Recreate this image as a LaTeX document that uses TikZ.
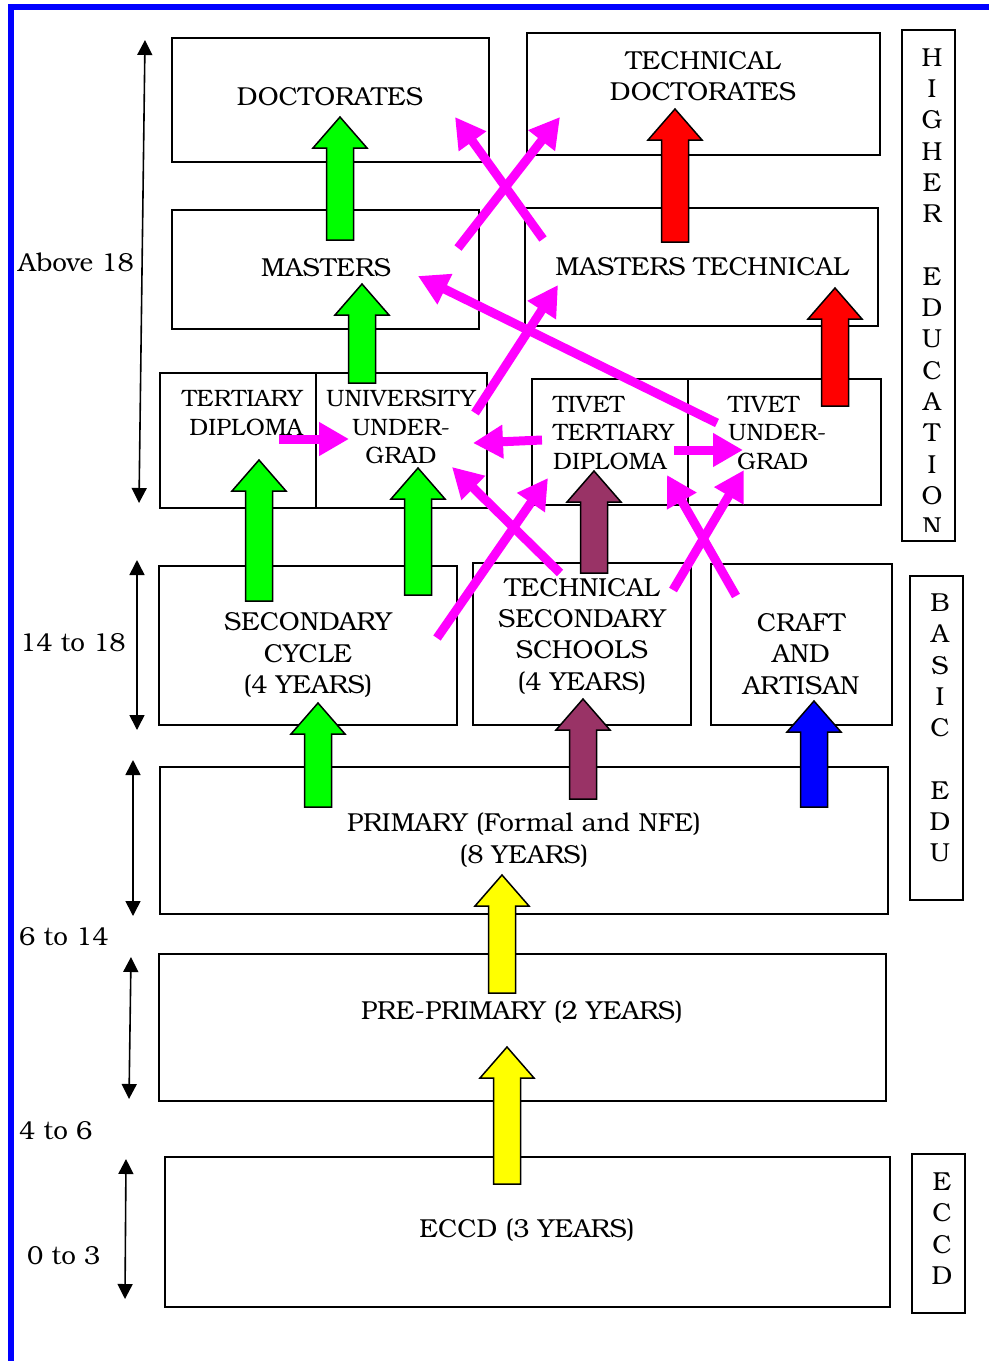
\documentclass[tikz,border=0pt]{standalone}
\usepackage{fontspec}
\setmainfont{TeX Gyre Bonum}
\usetikzlibrary{arrows.meta,calc}

\definecolor{crossmag}{RGB}{255,0,255}
\definecolor{tvgreen}{RGB}{0,255,0}
\definecolor{tvmaroon}{RGB}{153,51,102}
\definecolor{tvred}{RGB}{255,0,0}
\definecolor{tvblue}{RGB}{0,0,255}
\definecolor{tvyellow}{RGB}{255,255,0}

\tikzset{
  stage/.style={draw, line width=1.9pt, inner sep=0pt},
  txt/.style={font=\fontsize{26}{31.3}\selectfont, align=center, inner sep=0pt},
  smalltxt/.style={font=\fontsize{23.7}{28.5}\selectfont, inner sep=0pt},
  agespan/.style={line width=1.6pt, {Triangle[length=15pt,width=15pt]}-{Triangle[length=15pt,width=15pt]}},
  crossing/.style={crossmag, line width=9pt, -{Triangle[length=30pt,width=32pt]}},
  block/.style={draw=black, line width=1.5pt, line join=miter},
}

\newcommand{\blockup}[3]{%
  \filldraw[block, fill=#1] let \p1=(#2), \p2=(#3) in
    (\p1) -- (\x1+27pt,\y1-31pt) -- (\x1+13.5pt,\y1-31pt) -- (\x1+13.5pt,\y2)
    -- (\x1-13.5pt,\y2) -- (\x1-13.5pt,\y1-31pt) -- (\x1-27pt,\y1-31pt) -- cycle;}

\begin{document}
\begin{tikzpicture}[x=1pt,y=-1pt]
\useasboundingbox (0,0) rectangle (989,1361);
\draw[tvblue, line width=6pt, line join=miter] (10.5,1361) -- (10.5,7) -- (989,7);

\node[stage, minimum width=317pt, minimum height=124pt] (doc) at (330.5,100) {};
\node[stage, minimum width=353pt, minimum height=122pt] (techdoc) at (703.5,94) {};
\node[stage, minimum width=307pt, minimum height=119pt] (masters) at (325.5,269.5) {};
\node[stage, minimum width=353pt, minimum height=118pt] (masttech) at (701.5,267) {};
\node[stage, minimum width=156pt, minimum height=135pt] (tertdip) at (238,440.5) {};
\node[stage, minimum width=171pt, minimum height=135pt] (univug) at (401.5,440.5) {};
\node[stage, minimum width=156pt, minimum height=126pt] (tivetdip) at (610,442) {};
\node[stage, minimum width=193pt, minimum height=126pt] (tivetug) at (784.5,442) {};
\node[stage, minimum width=298pt, minimum height=159pt] (seccycle) at (308,645.5) {};
\node[stage, minimum width=218pt, minimum height=162pt] (techsec) at (582,644) {};
\node[stage, minimum width=181pt, minimum height=161pt] (craft) at (801.5,644.5) {};
\node[stage, minimum width=728pt, minimum height=147pt] (primary) at (524,840.5) {};
\node[stage, minimum width=727pt, minimum height=147pt] (preprim) at (522.5,1027.5) {};
\node[stage, minimum width=725pt, minimum height=150pt] (eccd) at (527.5,1232) {};
\node[stage, minimum width=53pt, minimum height=511pt] (higher) at (928.5,285.5) {};
\node[stage, minimum width=53pt, minimum height=324pt] (basic) at (936.5,738) {};
\node[stage, minimum width=53pt, minimum height=159pt] (eccdside) at (938.5,1233.5) {};

\node[txt] (docLbl) at (330,97) {DOCTORATES};
\node[txt] (techdocLbl) at (703,76) {TECHNICAL\\DOCTORATES};
\node[txt] (mastersLbl) at (326,268) {MASTERS};
\node[txt] (masttechLbl) at (702,267) {MASTERS TECHNICAL};
\node[smalltxt, align=right, anchor=east] (tertdipLbl) at (303,413) {TERTIARY\\DIPLOMA};
\node[smalltxt, align=center] (univugLbl) at (401,427) {UNIVERSITY\\UNDER-\\GRAD};
\node[smalltxt, align=left, anchor=west] (tivetdipLbl) at (553,433) {TIVET\\TERTIARY\\DIPLOMA};
\node[smalltxt, align=left, anchor=west] (tivetugLbl) at (728,433) {TIVET\\UNDER-\\\hspace*{9pt}GRAD};
\node[txt] (seccycleLbl) at (308,655) {SECONDARY\\CYCLE\\(4 YEARS)};
\node[txt] (techsecLbl) at (582,636) {TECHNICAL\\SECONDARY\\SCHOOLS\\(4 YEARS)};
\node[txt] (craftLbl) at (801,654) {CRAFT\\AND\\ARTISAN};
\node[txt] (primaryLbl) at (524,840) {PRIMARY (Formal and NFE)\\(8 YEARS)};
\node[txt] (preprimLbl) at (522,1012) {PRE-PRIMARY (2 YEARS)};
\node[txt] (eccdLbl) at (527,1230) {ECCD (3 YEARS)};

\begin{scope}
\clip (902,30) rectangle (955,531);
\node[txt] (higherLbl) at (932,292) {H\\I\\G\\H\\E\\R\\[31.3pt]E\\D\\U\\C\\A\\T\\I\\O\\N};
\end{scope}
\node[txt] (basicLbl) at (940,728) {B\\A\\S\\I\\C\\[31.3pt]E\\D\\U};
\node[txt] (eccdsideLbl) at (942,1228.5) {E\\C\\C\\D};

\node[txt, anchor=west] (ageHigh) at (18,262) {Above 18};
\node[txt, anchor=west] (ageSec) at (20,643) {14 to 18};
\node[txt, anchor=west] (agePrim) at (19,937) {6 to 14};
\node[txt, anchor=west] (agePre) at (19,1131) {4 to 6};
\node[txt, anchor=west] (ageEccd) at (27,1256) {0 to 3};

\coordinate (highTop) at (145,40);
\coordinate (highBot) at (139,503);
\coordinate (secTop) at (137,560);
\coordinate (secBot) at (137,730);
\coordinate (primTop) at (133,760);
\coordinate (primBot) at (133,916);
\coordinate (preTop) at (131,957);
\coordinate (preBot) at (129,1099);
\coordinate (eccdTop) at (126,1159);
\coordinate (eccdBot) at (125,1299);
\draw[agespan] (highTop) -- (highBot);
\draw[agespan] (secTop) -- (secBot);
\draw[agespan] (primTop) -- (primBot);
\draw[agespan] (preTop) -- (preBot);
\draw[agespan] (eccdTop) -- (eccdBot);

\coordinate (docUp) at (340,117);
\coordinate (docFoot) at (340,240);
\coordinate (mastUp) at (362,284);
\coordinate (mastFoot) at (362,383);
\coordinate (tdocUp) at (675,109);
\coordinate (tdocFoot) at (675,242);
\coordinate (tmastUp) at (835,288);
\coordinate (tmastFoot) at (835,406);
\coordinate (tertUp) at (259,460);
\coordinate (tertFoot) at (259,601);
\coordinate (univUp) at (418,468);
\coordinate (univFoot) at (418,595);
\coordinate (tdipUp) at (594,471);
\coordinate (tdipFoot) at (594,573);
\coordinate (secUp) at (318,703);
\coordinate (secFoot) at (318,807);
\coordinate (tsecUp) at (583,699);
\coordinate (tsecFoot) at (583,799);
\coordinate (craftUp) at (814,701);
\coordinate (craftFoot) at (814,807);
\coordinate (primUp) at (502,875);
\coordinate (primFoot) at (502,993);
\coordinate (preUp) at (507,1047);
\coordinate (preFoot) at (507,1184);
\blockup{tvgreen}{docUp}{docFoot}
\blockup{tvgreen}{mastUp}{mastFoot}
\blockup{tvred}{tdocUp}{tdocFoot}
\blockup{tvred}{tmastUp}{tmastFoot}
\blockup{tvgreen}{tertUp}{tertFoot}
\blockup{tvgreen}{univUp}{univFoot}
\blockup{tvmaroon}{tdipUp}{tdipFoot}
\blockup{tvgreen}{secUp}{secFoot}
\blockup{tvmaroon}{tsecUp}{tsecFoot}
\blockup{tvblue}{craftUp}{craftFoot}
\blockup{tvyellow}{primUp}{primFoot}
\blockup{tvyellow}{preUp}{preFoot}

\coordinate (mToTd) at (458,248);
\coordinate (tdIn) at (560,117);
\coordinate (tmToD) at (543,239);
\coordinate (dIn) at (455,117);
\coordinate (tugToM) at (717,423);
\coordinate (mIn) at (418,276);
\coordinate (uToTm) at (475,413);
\coordinate (tmIn) at (558,285);
\coordinate (tdToU) at (279,439);
\coordinate (uInLeft) at (349,439);
\coordinate (tvdToU) at (542,440);
\coordinate (uInRight) at (473,443);
\coordinate (tvdToTug) at (674,450);
\coordinate (tugInLeft) at (743,450);
\coordinate (scToTvd) at (437,638);
\coordinate (tvdInLow) at (548,478);
\coordinate (tsToU) at (560,573);
\coordinate (uInLow) at (452,467);
\coordinate (tsToTug) at (673,590);
\coordinate (tugInLow) at (744,470);
\coordinate (caToTvd) at (736,596);
\coordinate (tvdInRight) at (667,475);
\draw[crossing] (mToTd) -- (tdIn);
\draw[crossing] (tmToD) -- (dIn);
\draw[crossing] (tugToM) -- (mIn);
\draw[crossing] (uToTm) -- (tmIn);
\draw[crossing] (tdToU) -- (uInLeft);
\draw[crossing] (tvdToU) -- (uInRight);
\draw[crossing] (tvdToTug) -- (tugInLeft);
\draw[crossing] (scToTvd) -- (tvdInLow);
\draw[crossing] (tsToU) -- (uInLow);
\draw[crossing] (tsToTug) -- (tugInLow);
\draw[crossing] (caToTvd) -- (tvdInRight);
\end{tikzpicture}
\end{document}
